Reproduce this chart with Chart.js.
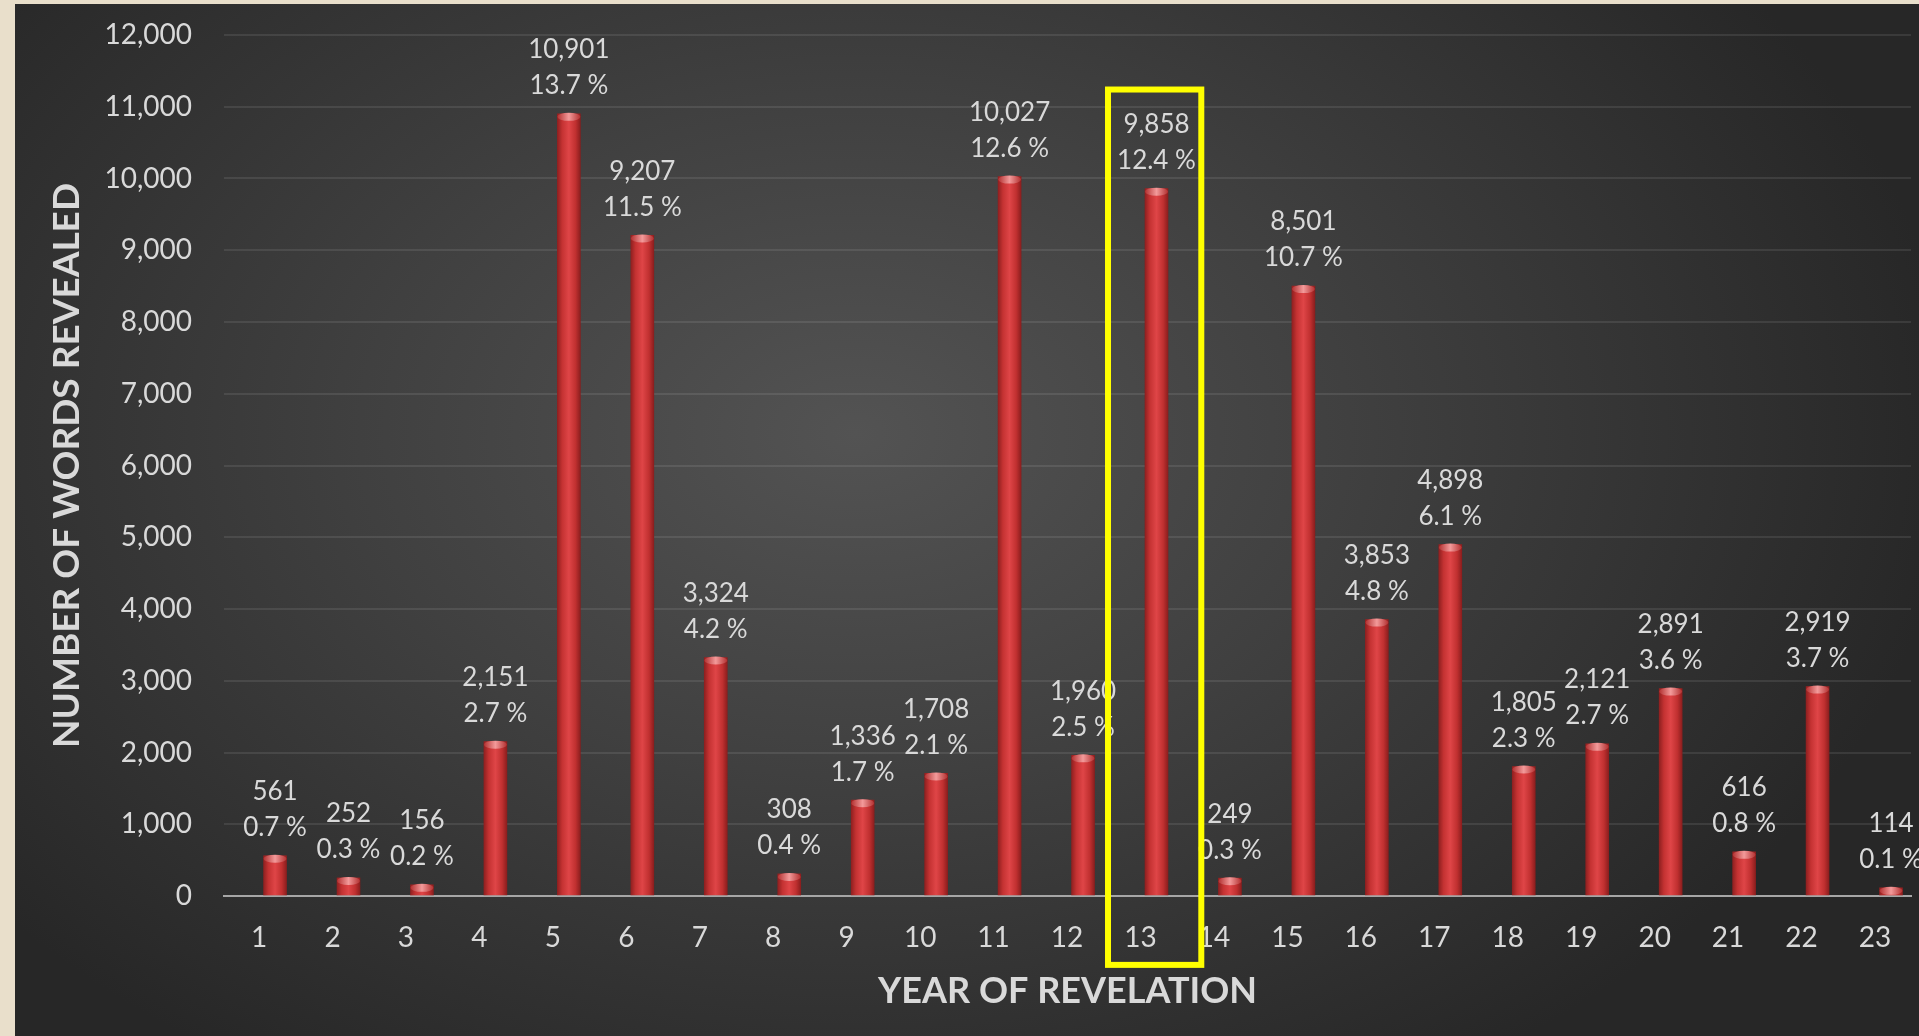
<!DOCTYPE html>
<html>
<head>
<meta charset="utf-8">
<title>Number of words revealed per year</title>
<script src="https://cdn.jsdelivr.net/npm/chart.js@4.4.1/dist/chart.umd.min.js"></script>
<style>
  html, body { margin: 0; padding: 0; background: #e9dfcb; overflow: hidden; }
  #panel {
    position: absolute; left: 15px; top: 4px; right: 0; bottom: 0;
    background: radial-gradient(ellipse 1100px 760px at 840px 430px, #535353 0%, #404040 45%, #272727 100%);
  }
  #chart { position: absolute; left: 0; top: 0; }
</style>
</head>
<body>
<div id="panel"></div>
<canvas id="chart" width="1919" height="1036"></canvas>
<script>
// data
var years = [1, 2, 3, 4, 5, 6, 7, 8, 9, 10, 11, 12, 13, 14, 15, 16, 17, 18, 19, 20, 21, 22, 23];
var words = [561, 252, 156, 2151, 10901, 9207, 3324, 308, 1336, 1708, 10027, 1960,
             9858, 249, 8501, 3853, 4898, 1805, 2121, 2891, 616, 2919, 114];
var percents = ['0.7 %', '0.3 %', '0.2 %', '2.7 %', '13.7 %', '11.5 %', '4.2 %', '0.4 %',
                '1.7 %', '2.1 %', '12.6 %', '2.5 %', '12.4 %', '0.3 %', '10.7 %', '4.8 %',
                '6.1 %', '2.3 %', '2.7 %', '3.6 %', '0.8 %', '3.7 %', '0.1 %'];
var highlightYear = 13;

var textColor = '#d9d9d9';

function fmt(n) {
    return Number(n).toLocaleString('en-US');
}

// lighter cap on top of each bar, then the two-line value labels
var barDecor = {
    id: 'barDecor',
    afterDatasetsDraw: function(chart) {
        var ctx = chart.ctx;
        var meta = chart.getDatasetMeta(0);
        ctx.save();
        meta.data.forEach(function(bar, i) {
            var half = bar.width / 2;
            var g = ctx.createLinearGradient(bar.x - half, 0, bar.x + half, 0);
            g.addColorStop(0, '#b23030');
            g.addColorStop(0.5, '#f39a9a');
            g.addColorStop(1, '#b23030');
            ctx.fillStyle = g;
            ctx.beginPath();
            ctx.ellipse(bar.x, bar.y + 3, half, 4, 0, 0, Math.PI * 2);
            ctx.fill();

            ctx.fillStyle = textColor;
            ctx.font = '26px Lato';
            ctx.textAlign = 'center';
            ctx.textBaseline = 'middle';
            ctx.fillText(fmt(words[i]), bar.x, bar.y - 64);
            ctx.fillText(percents[i], bar.x, bar.y - 28);
        });
        ctx.restore();
    }
};

// yellow box round the highlighted year
var highlightBox = {
    id: 'highlightBox',
    afterDraw: function(chart) {
        var xs = chart.scales.x;
        var ys = chart.scales.y;
        var left = xs.getPixelForValue(highlightYear - 0.66);
        var right = xs.getPixelForValue(highlightYear + 0.61);
        var top = ys.getPixelForValue(11240);
        var bottom = ys.getPixelForValue(-960);
        var ctx = chart.ctx;
        ctx.save();
        ctx.strokeStyle = '#ffff00';
        ctx.lineWidth = 6;
        ctx.strokeRect(left, top, right - left, bottom - top);
        ctx.restore();
    }
};

var barData = years.map(function(y, i) {
    return { x: y, y: words[i] };
});

var chart = new Chart(document.getElementById('chart'), {
    type: 'bar',
    data: {
        datasets: [{
            label: 'Words revealed',
            data: barData,
            barThickness: 23,
            borderWidth: 0,
            backgroundColor: function(c) {
                var ch = c.chart;
                if (!ch.chartArea || c.dataIndex === undefined) return '#c83636';
                var px = ch.scales.x.getPixelForValue(years[c.dataIndex]);
                var g = ch.ctx.createLinearGradient(px - 12, 0, px + 12, 0);
                g.addColorStop(0, '#8a1e1e');
                g.addColorStop(0.22, '#c43232');
                g.addColorStop(0.5, '#df4547');
                g.addColorStop(0.78, '#c03030');
                g.addColorStop(1, '#861c1c');
                return g;
            }
        }]
    },
    options: {
        responsive: false,
        animation: false,
        devicePixelRatio: 1,
        layout: {
            padding: { top: 35, right: 8, bottom: 0, left: 0 }
        },
        plugins: {
            legend: { display: false },
            tooltip: { enabled: false }
        },
        scales: {
            x: {
                type: 'linear',
                offset: false,
                min: 0.305,
                max: 23.272,
                afterBuildTicks: function(s) {
                    s.ticks = years.map(function(v) { return { value: v }; });
                },
                afterFit: function(s) {
                    s.height = 140;
                    s.paddingLeft = 0;
                    s.paddingRight = 0;
                },
                ticks: {
                    autoSkip: false,
                    maxRotation: 0,
                    padding: 25,
                    labelOffset: -16,
                    color: textColor,
                    font: { family: 'Lato', size: 28 },
                    callback: function(v) { return String(v); }
                },
                grid: { display: false, drawTicks: false },
                border: { display: true, color: '#a6a6a6', width: 2 },
                title: {
                    display: true,
                    text: 'YEAR OF REVELATION',
                    color: textColor,
                    font: { family: 'Lato', size: 36, weight: 'bold' },
                    padding: { top: 0, bottom: 23 }
                }
            },
            y: {
                min: 0,
                max: 12000,
                afterFit: function(s) {
                    s.width = 224;
                    s.paddingTop = 0;
                    s.paddingBottom = 0;
                },
                ticks: {
                    stepSize: 1000,
                    padding: 32,
                    color: textColor,
                    font: { family: 'Lato', size: 28 },
                    callback: function(v) { return fmt(v); }
                },
                grid: {
                    drawTicks: false,
                    lineWidth: 2,
                    color: function(c) {
                        return c.tick && c.tick.value === 0 ? '#a6a6a6' : 'rgba(255, 255, 255, 0.09)';
                    }
                },
                border: { display: false },
                title: {
                    display: true,
                    text: 'NUMBER OF WORDS REVEALED',
                    color: textColor,
                    font: { family: 'Lato', size: 37, weight: 'bold' },
                    padding: { top: 45, bottom: 0 }
                }
            }
        }
    },
    plugins: [barDecor, highlightBox]
});
</script>
</body>
</html>
